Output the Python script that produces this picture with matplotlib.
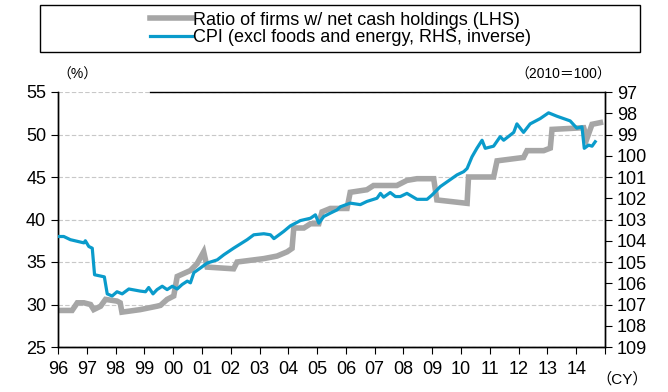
import matplotlib
matplotlib.use("Agg")
import matplotlib.pyplot as plt
from matplotlib.patches import Rectangle

plt.rcParams["font.family"] = ["Liberation Sans", "Noto Sans CJK JP", "DejaVu Sans"]

# ratio of firms with net cash holdings (%), left axis
ratio_x = [1996.00, 1996.49, 1996.67, 1996.90, 1997.13, 1997.24, 1997.48, 1997.65,
           1998.05, 1998.16, 1998.22, 1998.86, 1999.44, 1999.56, 1999.79, 2000.02,
           2000.14, 2000.60, 2000.83, 2001.06, 2001.18, 2002.10, 2002.22, 2003.15,
           2003.61, 2003.96, 2004.13, 2004.19, 2004.54, 2004.77, 2005.06, 2005.17,
           2005.46, 2006.04, 2006.15, 2006.73, 2006.96, 2007.77, 2008.12, 2008.47,
           2009.05, 2009.16, 2010.21, 2010.26, 2011.13, 2011.25, 2011.71, 2012.17,
           2012.29, 2012.87, 2013.10, 2013.16, 2014.26, 2014.37, 2014.55, 2014.84]
ratio_y = [29.3, 29.3, 30.2, 30.2, 30.0, 29.4, 29.8, 30.6,
           30.4, 30.2, 29.1, 29.4, 29.8, 29.9, 30.6, 31.0,
           33.3, 34.0, 34.8, 36.2, 34.4, 34.2, 35.0, 35.4,
           35.7, 36.2, 36.6, 39.0, 39.0, 39.5, 39.5, 40.9,
           41.3, 41.3, 43.2, 43.5, 44.0, 44.0, 44.6, 44.8,
           44.8, 42.3, 41.9, 45.0, 45.0, 46.9, 47.1, 47.3,
           48.1, 48.1, 48.4, 50.6, 50.8, 49.5, 51.2, 51.4]

# CPI excl. foods and energy (2010=100), right axis inverted
cpi_x = [1996.00, 1996.20, 1996.43, 1996.90, 1996.95, 1997.07, 1997.19, 1997.27,
         1997.61, 1997.71, 1997.88, 1998.05, 1998.23, 1998.46, 1998.86, 1999.04,
         1999.15, 1999.30, 1999.44, 1999.62, 1999.79, 1999.97, 2000.14, 2000.31,
         2000.49, 2000.60, 2000.72, 2000.95, 2001.18, 2001.53, 2001.76, 2002.10,
         2002.57, 2002.80, 2003.15, 2003.38, 2003.50, 2003.84, 2004.07, 2004.42,
         2004.77, 2004.94, 2005.06, 2005.23, 2005.46, 2005.69, 2005.81, 2006.15,
         2006.50, 2006.73, 2007.08, 2007.20, 2007.31, 2007.54, 2007.72, 2007.89,
         2008.12, 2008.47, 2008.82, 2008.99, 2009.28, 2009.86, 2010.09, 2010.21,
         2010.38, 2010.55, 2010.73, 2010.84, 2011.13, 2011.36, 2011.48, 2011.83,
         2011.94, 2012.17, 2012.40, 2012.75, 2013.04, 2013.33, 2013.56, 2013.79,
         2014.02, 2014.20, 2014.28, 2014.43, 2014.55, 2014.66]
cpi_y = [103.8, 103.8, 103.95, 104.1, 104.0, 104.27, 104.35, 105.6,
         105.7, 106.5, 106.6, 106.4, 106.5, 106.27, 106.37, 106.4,
         106.2, 106.5, 106.3, 106.14, 106.3, 106.14, 106.27, 106.06,
         105.9, 105.98, 105.5, 105.28, 105.05, 104.9, 104.66, 104.35,
         103.95, 103.72, 103.67, 103.72, 103.9, 103.56, 103.3, 103.05,
         102.94, 102.78, 103.17, 102.86, 102.7, 102.55, 102.4, 102.23,
         102.3, 102.15, 102.0, 101.77, 101.95, 101.73, 101.92, 101.92,
         101.77, 102.05, 102.05, 101.85, 101.45, 100.9, 100.75, 100.6,
         100.05, 99.65, 99.27, 99.65, 99.55, 99.1, 99.27, 98.9,
         98.5, 98.9, 98.5, 98.25, 97.98, 98.14, 98.25, 98.36,
         98.7, 98.64, 99.65, 99.5, 99.55, 99.34]

years = list(range(1996, 2016))
year_labels = ["%02d" % (y % 100) for y in years[:-1]] + [""]

gray = "#A6A6A6"
blue = "#0A9BCB"

fig = plt.figure(figsize=(6.68, 3.92), dpi=100)
ax = fig.add_axes([58 / 668, 1 - 347 / 392, 547 / 668, 255 / 392])
ax2 = ax.twinx()

l1, = ax.plot(ratio_x, ratio_y, color=gray, lw=4.0, solid_joinstyle="miter", zorder=2)
l2, = ax2.plot(cpi_x, cpi_y, color=blue, lw=2.3, zorder=3)

ax.set_xlim(1996, 2015)
ax.set_ylim(25, 55)
ax.set_yticks(range(25, 56, 5))
ax.set_xticks(years)
ax.set_xticklabels(year_labels)
ax.yaxis.grid(True, color="#C8C8C8", ls=(0, (4, 2)), lw=0.8)
ax.set_axisbelow(True)

ax2.set_ylim(109, 97)
ax2.set_yticks(range(97, 110))

for a in (ax, ax2):
    a.tick_params(direction="out", length=5, width=0.8, labelsize=13, colors="black")
    for s in a.spines.values():
        s.set_linewidth(1.0)
ax.tick_params(axis="x", pad=5)
ax.spines["top"].set_bounds(1999.2, 2015)
ax2.spines["top"].set_visible(False)

fig.text(77 / 668, 1 - 75 / 392, "（%）", fontsize=10, ha="center", va="center")
fig.text(563 / 668, 1 - 75 / 392, "（2010＝100）", fontsize=10, ha="center", va="center")
fig.text(622 / 668, 1 - 379 / 392, "（CY）", fontsize=11, ha="center", va="center")

fig.legend([l1, l2],
           ["Ratio of firms w/ net cash holdings (LHS)",
            "CPI (excl foods and energy, RHS, inverse)"],
           loc="center", bbox_to_anchor=(0.51, 1 - 29 / 392), frameon=False,
           fontsize=13, handlelength=2.3, handletextpad=0.1, labelspacing=0.05,
           borderpad=0)
fig.patches.append(Rectangle((40 / 668, 1 - 52 / 392), 600 / 668, 47 / 392,
                             transform=fig.transFigure, fill=False,
                             edgecolor="black", lw=1.0))

fig.savefig("out.png", dpi=100)
